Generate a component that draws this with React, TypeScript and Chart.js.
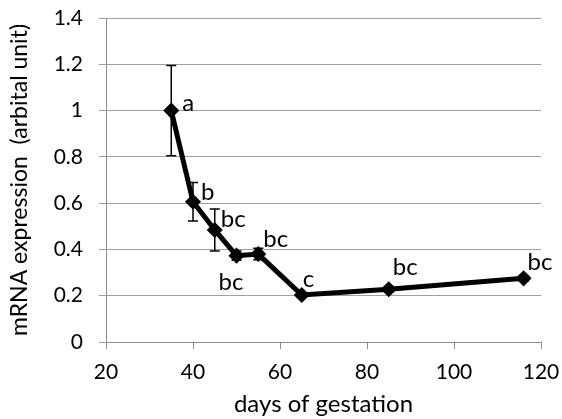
import React, { useEffect, useRef } from "react";
import { Chart, registerables } from "chart.js";

Chart.register(...registerables);

const days = [35, 40, 45, 50, 55, 65, 85, 116];
const expression = [1.0, 0.606, 0.484, 0.373, 0.38, 0.203, 0.228, 0.275];
const errors = [0.195, 0.083, 0.091, 0.02, 0.025, 0.01, 0.012, 0.012];
const letters = ["a", "b", "bc", "bc", "bc", "c", "bc", "bc"];
const xTicks = [20, 40, 60, 80, 100, 120];
const yTicks = [0, 0.2, 0.4, 0.6, 0.8, 1, 1.2, 1.4];

const FONT = "Lato";
const letterOffsets = [
  [11, 0],
  [8, -2],
  [6, -3],
  [-18, 34],
  [5, -7],
  [1, -8],
  [4, -14],
  [4, -8],
];

const errorBarPlugin = {
  id: "errorBars",
  beforeDatasetsDraw(chart: any) {
    const { ctx, scales } = chart;
    const xs = scales.x;
    const ys = scales.y;
    ctx.save();
    ctx.strokeStyle = "#000";
    ctx.lineWidth = 1.5;
    days.forEach((d, i) => {
      const px = xs.getPixelForValue(d);
      const top = ys.getPixelForValue(expression[i] + errors[i]);
      const bot = ys.getPixelForValue(expression[i] - errors[i]);
      ctx.beginPath();
      ctx.moveTo(px, top);
      ctx.lineTo(px, bot);
      ctx.moveTo(px - 5, top);
      ctx.lineTo(px + 5, top);
      ctx.moveTo(px - 5, bot);
      ctx.lineTo(px + 5, bot);
      ctx.stroke();
    });
    ctx.restore();
  },
  afterDatasetsDraw(chart: any) {
    const { ctx, scales } = chart;
    const xs = scales.x;
    const ys = scales.y;
    ctx.save();
    ctx.fillStyle = "#000";
    ctx.font = `24px ${FONT}`;
    ctx.textAlign = "left";
    ctx.textBaseline = "alphabetic";
    days.forEach((d, i) => {
      const px = xs.getPixelForValue(d);
      const py = ys.getPixelForValue(expression[i]);
      const [dx, dy] = letterOffsets[i];
      ctx.fillText(letters[i], px + dx, py + dy);
    });
    ctx.restore();
  },
};

export default function App() {
  const ref = useRef<HTMLCanvasElement | null>(null);
  useEffect(() => {
    document.body.style.margin = "0";
    const canvas = ref.current!;
    const chart = new Chart(canvas, {
      type: "scatter",
      data: {
        datasets: [
          {
            data: days.map((d, i) => ({ x: d, y: expression[i] })),
            showLine: true,
            borderColor: "#000",
            borderWidth: 5,
            backgroundColor: "#000",
            pointStyle: "rectRot",
            pointRadius: 7,
            pointBorderWidth: 1.5,
            pointBackgroundColor: "#000",
            pointBorderColor: "#000",
          },
        ],
      },
      options: {
        animation: false,
        responsive: false,
        devicePixelRatio: 1,
        layout: { padding: { left: 0, right: 21, top: 18, bottom: 0 } },
        plugins: { legend: { display: false }, tooltip: { enabled: false } },
        scales: {
          x: {
            type: "linear",
            min: 20,
            max: 120,
            afterBuildTicks: (s: any) => {
              s.ticks = xTicks.map((v) => ({ value: v }));
            },
            afterFit: (s: any) => {
              s.height = 77;
              s.paddingLeft = 0;
              s.paddingRight = 0;
            },
            ticks: {
              color: "#000",
              font: { family: FONT, size: 21 },
              padding: 11,
            },
            grid: {
              drawOnChartArea: false,
              drawTicks: true,
              tickLength: 7,
              color: "#8c8c8c",
            },
            border: { display: true, color: "#8c8c8c", width: 1 },
            title: {
              display: true,
              text: "days of gestation",
              color: "#000",
              font: { family: FONT, size: 24 },
              padding: { top: 0, bottom: 0 },
            },
          },
          y: {
            type: "linear",
            min: 0,
            max: 1.4,
            afterBuildTicks: (s: any) => {
              s.ticks = yTicks.map((v) => ({ value: v }));
            },
            afterFit: (s: any) => {
              s.width = 106;
              s.paddingTop = 0;
              s.paddingBottom = 0;
            },
            ticks: {
              color: "#000",
              font: { family: FONT, size: 21 },
              padding: 16,
              callback: (v: any) => String(Math.round(Number(v) * 10) / 10),
            },
            grid: {
              color: "#a0a0a0",
              tickLength: 7,
              drawTicks: true,
            },
            border: { display: true, color: "#8c8c8c", width: 1 },
            title: {
              display: true,
              text: "mRNA expression  (arbital unit)",
              color: "#000",
              font: { family: FONT, size: 23 },
              padding: { top: 6, bottom: 0 },
            },
          },
        },
      },
      plugins: [errorBarPlugin],
    });
    return () => chart.destroy();
  }, []);
  return (
    <canvas
      ref={ref}
      width={562}
      height={419}
      style={{ display: "block", width: 562, height: 419 }}
    />
  );
}
